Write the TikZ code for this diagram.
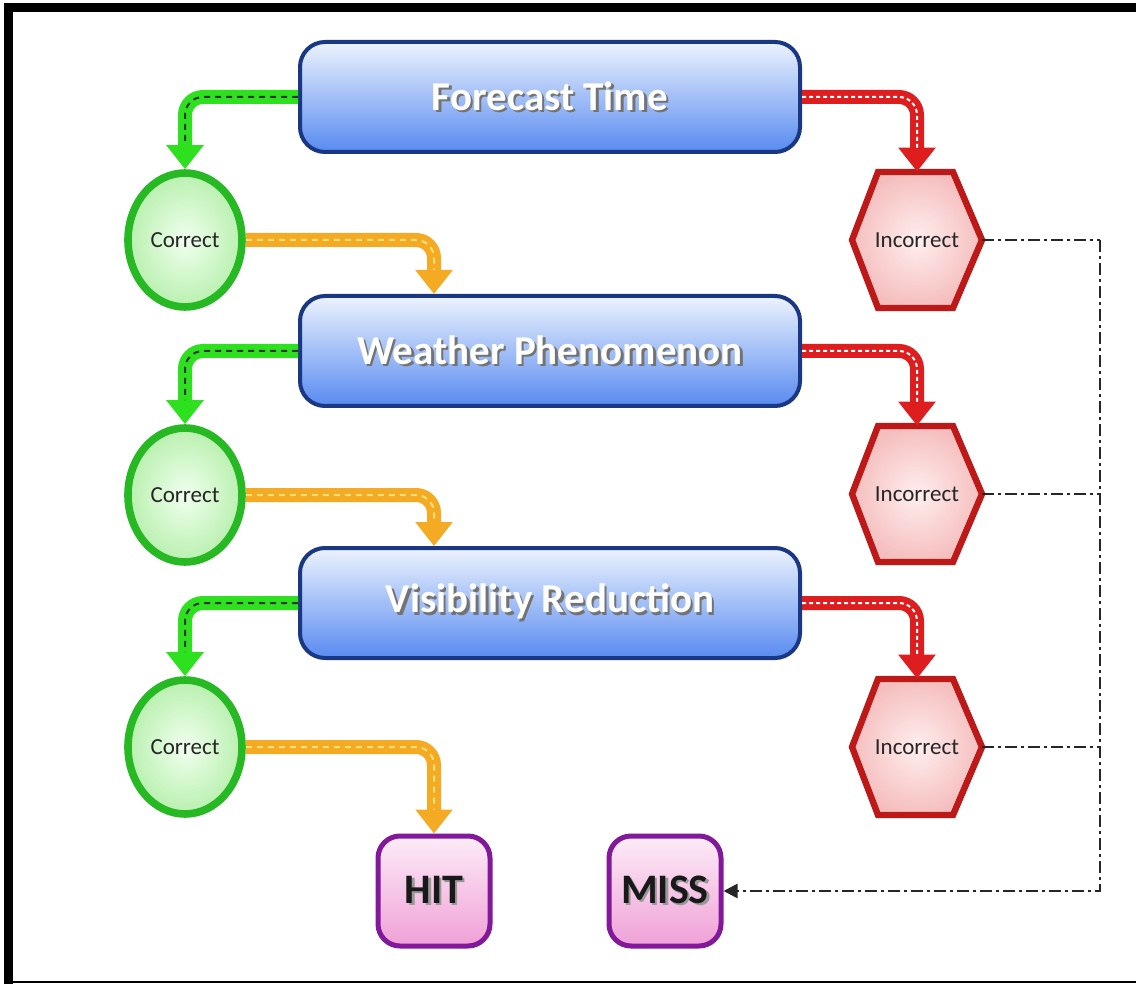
\documentclass[tikz,border=0pt]{standalone}
\usepackage{fontspec}
\setmainfont{Carlito}
\usetikzlibrary{shapes.geometric,arrows.meta,calc}
\definecolor{boxtop}{RGB}{236,243,253}
\definecolor{boxmid}{RGB}{108,152,242}
\definecolor{boxbot}{RGB}{88,138,240}
\definecolor{boxline}{RGB}{25,55,130}
\definecolor{grn}{RGB}{45,225,30}
\definecolor{grnline}{RGB}{38,185,35}
\definecolor{grnin}{RGB}{240,255,238}
\definecolor{grnout}{RGB}{185,240,175}
\definecolor{org}{RGB}{245,170,35}
\definecolor{orgdash}{RGB}{255,225,120}
\definecolor{rd}{RGB}{222,30,30}
\definecolor{hexline}{RGB}{190,25,25}
\definecolor{hexin}{RGB}{255,238,238}
\definecolor{hexout}{RGB}{245,190,190}
\definecolor{pinktop}{RGB}{252,236,247}
\definecolor{pinkbot}{RGB}{240,160,215}
\definecolor{purp}{RGB}{130,25,155}
\newcommand\shadowtxt[2]{\leavevmode\rlap{\kern1.2pt\raisebox{-1.2pt}{\textcolor{#2}{#1}}}#1}
\tikzset{
  bluebox/.style={rectangle, rounded corners=12.5pt, minimum width=250pt, minimum height=55pt,
    inner sep=0pt, draw=boxline, line width=2pt, top color=boxtop, middle color=boxmid, bottom color=boxbot,
    text=white, font=\fontsize{20.5}{25}\selectfont\bfseries},
  okcircle/.style={ellipse, minimum width=57pt, minimum height=67pt, inner sep=0pt,
    draw=grnline, line width=3.8pt, inner color=grnin, outer color=grnout,
    font=\fontsize{11.5}{13}\selectfont, text=black!85},
  hexlabel/.style={rectangle, minimum width=65pt, minimum height=68pt, inner sep=0pt,
    font=\fontsize{11.5}{13}\selectfont, text=black!85},
  hexshape/.style={draw=hexline, line width=3.2pt, line join=miter, inner color=hexin, outer color=hexout},
  endbox/.style={rectangle, rounded corners=11pt, minimum width=56pt, minimum height=55pt, inner sep=0pt,
    draw=purp, line width=2.5pt, top color=pinktop, bottom color=pinkbot,
    font=\fontsize{21}{25}\selectfont\bfseries, text=black!90},
  bigarrow/.style={line width=7pt, rounded corners=9pt, -{Triangle[width=18pt,length=12pt]}},
  garrow/.style={bigarrow, draw=grn,
    postaction={draw=black!80, line width=1pt, dash pattern=on 3pt off 2.5pt, shorten >=12pt, -}},
  oarrow/.style={bigarrow, draw=org,
    postaction={draw=orgdash, line width=1pt, dash pattern=on 3pt off 2.5pt, shorten >=12pt, -}},
  rarrow/.style={bigarrow, draw=rd,
    postaction={draw=white, line width=1pt, dash pattern=on 2pt off 1.5pt, shorten >=12pt, -}},
  dd/.style={draw=black!85, line width=1.3pt, dash pattern=on 6pt off 2pt on 1.5pt off 2pt},
}
\begin{document}
\begin{tikzpicture}[x=0.5pt,y=-0.5pt]
\useasboundingbox (0,0) rectangle (1136,984);
\fill[white] (0,0) rectangle (1136,984);
% frame
\draw[line width=4.5pt] (8,984) -- (8,7.5) -- (1136,7.5);
\draw[line width=1.2pt] (8,982) -- (1136,982);

% blue boxes
\node[bluebox] (ft) at (550,97) {\shadowtxt{Forecast Time}{black!55}};
\node[bluebox] (wp) at (550,351) {\shadowtxt{Weather Phenomenon}{black!55}};
\node[bluebox] (vr) at (550,603) {\shadowtxt{Visibility Reduction}{black!55}};

% correct circles
\node[okcircle] (c1) at (185,240) {Correct};
\node[okcircle] (c2) at (185,495) {Correct};
\node[okcircle] (c3) at (185,747) {Correct};

% incorrect hexagons
\foreach \n/\y in {i1/240,i2/494,i3/747}{
  \path[hexshape] (852,\y) -- (878,\y-68) -- (953,\y-68) -- (982,\y) -- (953,\y+68) -- (878,\y+68) -- cycle;
  \node[hexlabel] (\n) at (917,\y) {Incorrect};
}

% end boxes
\node[endbox] (hit) at (434,891) {\shadowtxt{HIT}{black!40}};
\node[endbox] (miss) at (665,891) {\shadowtxt{MISS}{black!40}};

% bus coordinate for dash-dot lines
\coordinate (bus) at (1100,240);

% green arrows
\draw[garrow] (ft.west) -| (c1.north);
\draw[garrow] (wp.west) -| (c2.north);
\draw[garrow] (vr.west) -| (c3.north);

% orange arrows
\draw[oarrow] (c1.east) -| (wp.north -| hit.north);
\draw[oarrow] (c2.east) -| (vr.north -| hit.north);
\draw[oarrow] (c3.east) -| (hit.north);

% red arrows
\draw[rarrow] (ft.east) -| (i1.north);
\draw[rarrow] (wp.east) -| (i2.north);
\draw[rarrow] (vr.east) -| (i3.north);

% dash-dot connectors
\draw[dd] (i1.east) -- (bus);
\draw[dd] (i2.east) -- (i2.east -| bus);
\draw[dd] (i3.east) -- (i3.east -| bus);
\draw[dd, -{Triangle[width=7pt,length=7pt]}] (bus) -- (miss.east -| bus) -- (miss.east);
\end{tikzpicture}
\end{document}
